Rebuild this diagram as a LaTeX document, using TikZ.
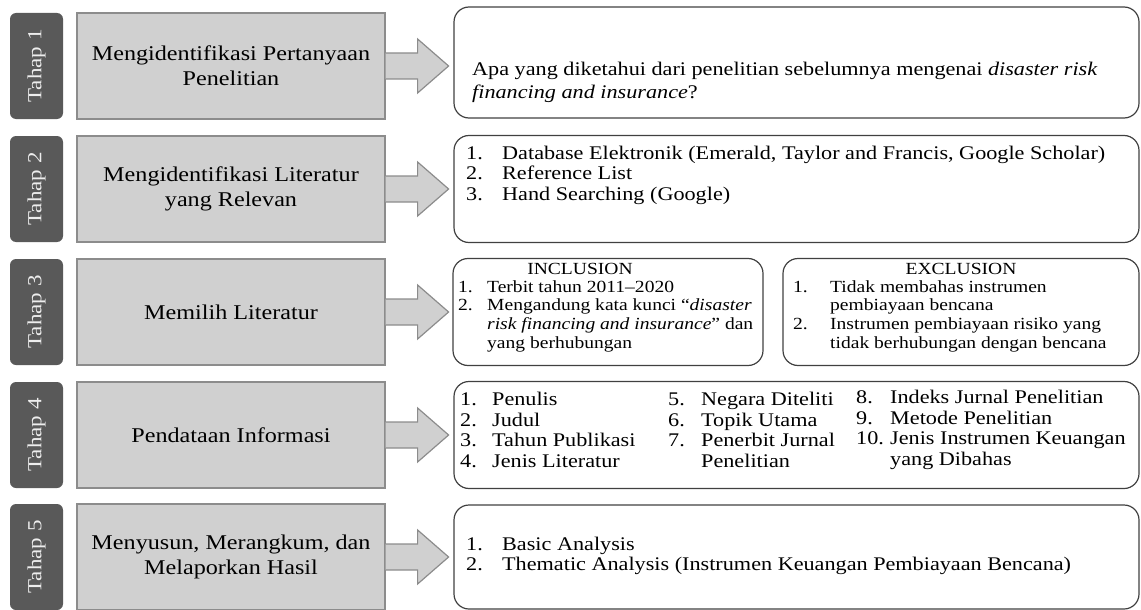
\documentclass[tikz,border=0pt]{standalone}
\usepackage{fontspec}
\setmainfont{Liberation Serif}[FakeStretch=1.15]
\usetikzlibrary{calc,positioning}
\definecolor{tahapgray}{HTML}{595959}
\definecolor{tahapteks}{HTML}{EDEDED}
\definecolor{kotakgray}{HTML}{D0D0D0}
\definecolor{garisgray}{HTML}{8C8C8C}
\definecolor{garisisi}{HTML}{404040}
\newcommand{\nom}[2][36pt]{\makebox[#1][l]{#2}}
\tikzset{
    x=1pt, y=-1pt,
    tahap/.style={rounded corners=6pt, fill=tahapgray, text=tahapteks, rotate=90, minimum width=106pt, minimum height=53pt, inner sep=0pt, font=\fontsize{20}{22}\selectfont},
    langkah/.style={fill=kotakgray, draw=garisgray, line width=1.2pt, minimum width=308pt, minimum height=106pt, inner sep=0pt, align=center, font=\fontsize{21}{25}\selectfont},
    isi/.style={draw=garisisi, line width=1.2pt, rounded corners=15pt, inner sep=0pt},
    teks/.style={anchor=west, inner sep=0pt, align=left, font=\fontsize{19.3}{20.5}\selectfont},
    kecil/.style={inner sep=0pt, align=left, font=\fontsize{17}{18.7}\selectfont},
    panah/.style={fill=kotakgray, draw=garisgray, line width=1.2pt, line join=miter}
}
\begin{document}
\begin{tikzpicture}
	\useasboundingbox (0,0) rectangle (1141,610);

	% tahap
	\node[tahap] (t1) at (36.5,66) {Tahap 1};
	\node[tahap] (t2) at (36.5,189) {Tahap 2};
	\node[tahap] (t3) at (36.5,312) {Tahap 3};
	\node[tahap] (t4) at (36.5,435) {Tahap 4};
	\node[tahap] (t5) at (36.5,557) {Tahap 5};

	% langkah
	\node[langkah] (l1) at (231,66) {Mengidentifikasi Pertanyaan\\Penelitian};
	\node[langkah] (l2) at (231,189) {Mengidentifikasi Literatur\\yang Relevan};
	\node[langkah] (l3) at (231,312) {Memilih Literatur};
	\node[langkah] (l4) at (231,435) {Pendataan Informasi};
	\node[langkah] (l5) at (231,557) {Menyusun, Merangkum, dan\\Melaporkan Hasil};

	% kotak isi
	\node[isi, minimum width=685pt, minimum height=111pt] (k1) at (796.5,62.5) {};
	\node[isi, minimum width=685pt, minimum height=107pt] (k2) at (796.5,189) {};
	\node[isi, minimum width=310pt, minimum height=107pt] (inc) at (608,312) {};
	\node[isi, minimum width=356pt, minimum height=107pt] (exc) at (961,312) {};
	\node[isi, minimum width=685pt, minimum height=107pt] (k4) at (796.5,435) {};
	\node[isi, minimum width=685pt, minimum height=104pt] (k5) at (796.5,557) {};

	\foreach \i in {1,...,5}
	  \draw[panah] ($(l\i.east)+(0,-13)$) -- ++(32,0) -- ++(0,-14) -- ++(31,27) -- ++(-31,27) -- ++(0,-14) -- ++(-32,0);

	% teks
	\node[teks, font=\fontsize{19.3}{23}\selectfont] (p1) at (472,82) {Apa yang diketahui dari penelitian sebelumnya mengenai \textit{disaster risk}\\\textit{financing and insurance}?};
	\node[teks] (p2) at (466,175) {\nom{1.}Database Elektronik (Emerald, Taylor and Francis, Google Scholar)\\\nom{2.}Reference List\\\nom{3.}Hand Searching (Google)};

	\node[kecil] (judulinc) at (580,269) {INCLUSION};
	\node[kecil, anchor=west] (pinc) at (458,316) {\nom[29pt]{1.}Terbit tahun 2011–2020\\\nom[29pt]{2.}Mengandung kata kunci “\textit{disaster}\\\nom[29pt]{}\textit{risk financing and insurance}” dan\\\nom[29pt]{}yang berhubungan};
	\node[kecil] (judulexc) at (exc.center |- 0,269) {EXCLUSION};
	\node[kecil, anchor=west] (pexc) at (793,316) {\nom[37pt]{1.}Tidak membahas instrumen\\\nom[37pt]{}pembiayaan bencana\\\nom[37pt]{2.}Instrumen pembiayaan risiko yang\\\nom[37pt]{}tidak berhubungan dengan bencana};

	\node[teks] (p4a) at (460,430) {\nom[32pt]{1.}Penulis\\\nom[32pt]{2.}Judul\\\nom[32pt]{3.}Tahun Publikasi\\\nom[32pt]{4.}Jenis Literatur};
	\node[teks] (p4b) at (668,430) {\nom[33pt]{5.}Negara Diteliti\\\nom[33pt]{6.}Topik Utama\\\nom[33pt]{7.}Penerbit Jurnal\\\nom[33pt]{}Penelitian};
	\node[teks] (p4c) at (856,430) {\nom[34pt]{8.}Indeks Jurnal Penelitian\\\nom[34pt]{9.}Metode Penelitian\\\nom[34pt]{10.}Jenis Instrumen Keuangan\\\nom[34pt]{}yang Dibahas};

	\node[teks] (p5) at (466,556) {\nom{1.}Basic Analysis\\\nom{2.}Thematic Analysis (Instrumen Keuangan Pembiayaan Bencana)};
\end{tikzpicture}
\end{document}
